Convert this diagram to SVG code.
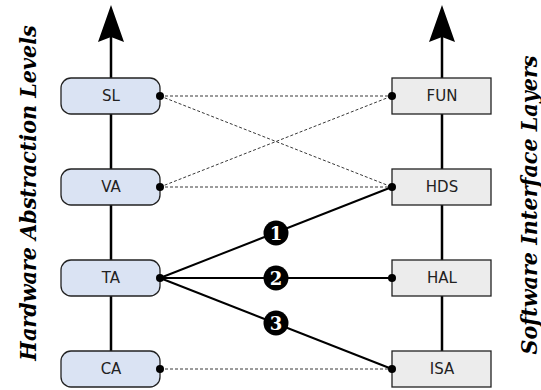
<svg xmlns="http://www.w3.org/2000/svg" width="541" height="390" viewBox="0 0 541 390">
<defs>
<style>
.axis{stroke:#000;stroke-width:2.5;fill:none}
.head{fill:#000}
.hw rect{fill:#dae3f3;stroke:#222;stroke-width:1.3}
.sw rect{fill:#ececec;stroke:#222;stroke-width:1.3}
.lbl{font-family:"DejaVu Sans","Liberation Sans",sans-serif;font-size:15px;fill:#222;text-anchor:middle;dominant-baseline:central}
.dot{fill:#000}
.dash{stroke:#222;stroke-width:0.9;stroke-dasharray:3 2;fill:none}
.solid{stroke:#000;stroke-width:2;fill:none}
.badge circle{fill:#000}
.badge text{font-family:"DejaVu Serif","Liberation Serif",serif;font-weight:bold;font-size:18px;fill:#fff;text-anchor:middle;dominant-baseline:central}
.side{font-family:"DejaVu Serif Condensed","DejaVu Serif","Liberation Serif",serif;font-stretch:condensed;font-weight:bold;font-style:italic;font-size:23px;fill:#000;text-anchor:middle}
</style>
</defs>
<g id="axes">
<line class="axis" x1="111" y1="36" x2="111" y2="360"/>
<path class="head" d="M111,5 L124,42 L111,37 L98,42 Z"/>
<line class="axis" x1="442" y1="36" x2="442" y2="360"/>
<path class="head" d="M442,5 L455,42 L442,37 L429,42 Z"/>
</g>
<g id="connectors">
<line class="dash" x1="160" y1="96" x2="392" y2="96"/>
<line class="dash" x1="160" y1="96" x2="392" y2="187"/>
<line class="dash" x1="160" y1="187" x2="392" y2="96"/>
<line class="dash" x1="160" y1="187" x2="392" y2="187"/>
<line class="dash" x1="160" y1="369" x2="392" y2="369"/>
<line class="solid" x1="160" y1="278" x2="392" y2="187"/>
<line class="solid" x1="160" y1="278" x2="392" y2="278"/>
<line class="solid" x1="160" y1="278" x2="392" y2="369"/>
<g class="badge" id="badge1"><circle cx="276" cy="233" r="12.5"/><text x="276" y="233">1</text></g>
<g class="badge" id="badge2"><circle cx="276" cy="278" r="12.5"/><text x="276" y="278">2</text></g>
<g class="badge" id="badge3"><circle cx="276" cy="323" r="12.5"/><text x="276" y="323">3</text></g>
</g>
<g id="SL" class="hw"><rect x="61" y="78" width="99" height="36" rx="10"/><text class="lbl" x="111" y="96">SL</text><circle class="dot" cx="160" cy="96" r="4"/></g>
<g id="VA" class="hw"><rect x="61" y="169" width="99" height="36" rx="10"/><text class="lbl" x="111" y="187">VA</text><circle class="dot" cx="160" cy="187" r="4"/></g>
<g id="TA" class="hw"><rect x="61" y="260" width="99" height="36" rx="10"/><text class="lbl" x="111" y="278">TA</text><circle class="dot" cx="160" cy="278" r="4"/></g>
<g id="CA" class="hw"><rect x="61" y="351" width="99" height="36" rx="10"/><text class="lbl" x="111" y="369">CA</text><circle class="dot" cx="160" cy="369" r="4"/></g>
<g id="FUN" class="sw"><rect x="392" y="78" width="99" height="36"/><text class="lbl" x="442" y="96">FUN</text><circle class="dot" cx="392" cy="96" r="4"/></g>
<g id="HDS" class="sw"><rect x="392" y="169" width="99" height="36"/><text class="lbl" x="442" y="187">HDS</text><circle class="dot" cx="392" cy="187" r="4"/></g>
<g id="HAL" class="sw"><rect x="392" y="260" width="99" height="36"/><text class="lbl" x="442" y="278">HAL</text><circle class="dot" cx="392" cy="278" r="4"/></g>
<g id="ISA" class="sw"><rect x="392" y="351" width="99" height="36"/><text class="lbl" x="442" y="369">ISA</text><circle class="dot" cx="392" cy="369" r="4"/></g>
<g id="titles">
<text class="side" transform="translate(36,193) rotate(-90)">Hardware Abstraction Levels</text>
<text class="side" transform="translate(537,205) rotate(-90)">Software Interface Layers</text>
</g>
</svg>
